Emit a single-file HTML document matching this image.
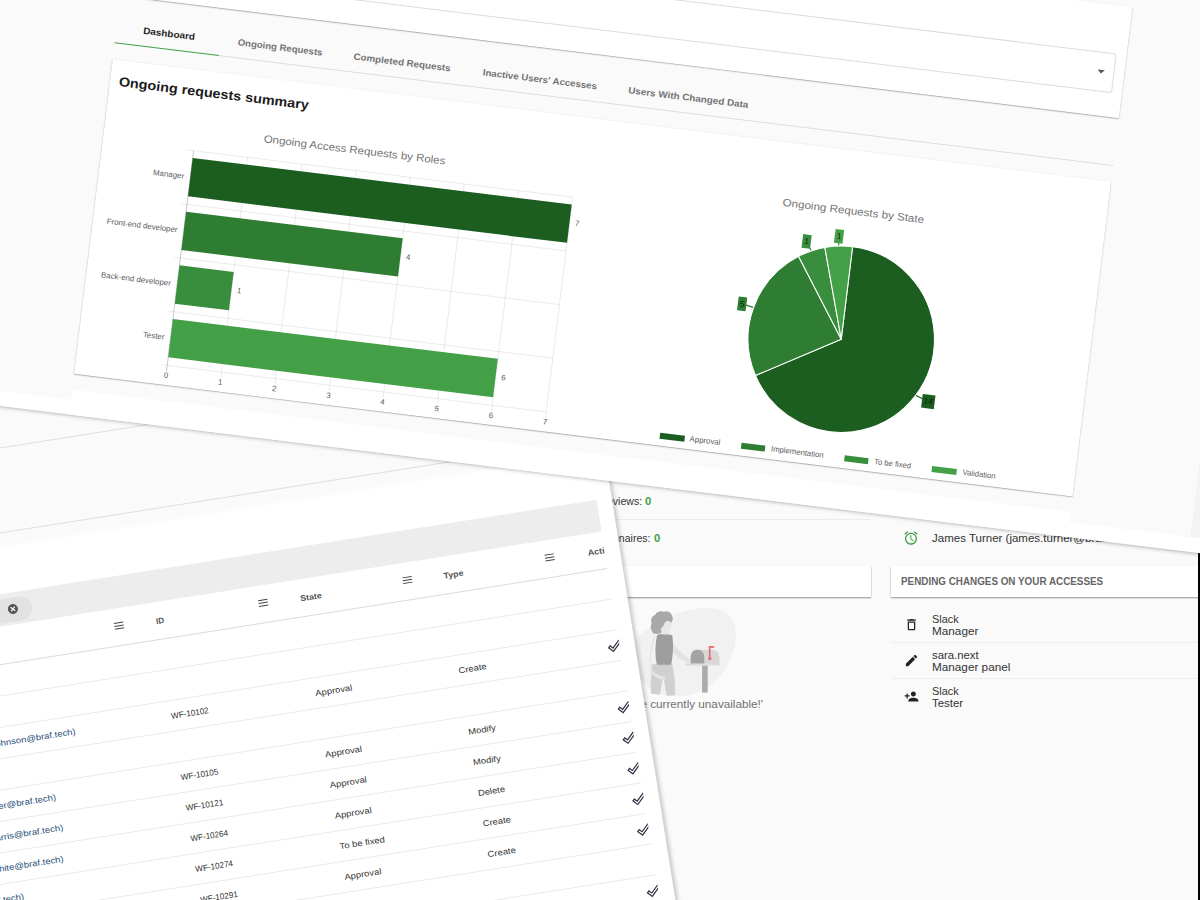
<!DOCTYPE html>
<html lang="en">
<head>
<meta charset="utf-8">
<title>Access requests dashboard</title>
<style>
html,body{margin:0;padding:0;}
body{width:1200px;height:900px;overflow:hidden;position:relative;background:#fafafa;font-family:"Liberation Sans",sans-serif;}
.a{position:absolute;}
.t{position:absolute;white-space:nowrap;font-family:"Liberation Sans",sans-serif;}
.layer{position:absolute;left:0;top:0;width:0;height:0;transform-origin:0 0;}
#tbl{transform:rotate(-9deg);}
#top{transform:rotate(7deg);}
svg{position:absolute;overflow:visible;}
</style>
</head>
<body>

<div id="base" class="a" style="left:0;top:0;width:1200px;height:900px;">
<span class="t" style="left:562.50px;top:494.74px;font-size:10.4px;line-height:13.52px;color:#333;transform:scaleX(1.0140);transform-origin:100% 50%;">Pending reviews:</span>
<span class="t" style="left:644.60px;top:494.74px;font-size:10.4px;line-height:13.52px;color:#43a047;font-weight:bold;transform:scaleX(1.0800);transform-origin:0 50%;">0</span>
<div class="a" style="left:560.00px;top:519.00px;width:310.50px;height:1.00px;background:#ececec;"></div>
<span class="t" style="left:539.40px;top:531.64px;font-size:10.4px;line-height:13.52px;color:#333;transform:scaleX(1.0140);transform-origin:100% 50%;">Pending questionnaires:</span>
<span class="t" style="left:653.90px;top:531.64px;font-size:10.4px;line-height:13.52px;color:#43a047;font-weight:bold;transform:scaleX(1.0800);transform-origin:0 50%;">0</span>
<div class="a" style="left:440.00px;top:566.00px;width:431.30px;height:31.20px;background:#fff;box-shadow:0 1px 1.5px rgba(0,0,0,.42);"></div>
<div class="a" style="left:890.50px;top:566.00px;width:320.00px;height:31.20px;background:#fff;box-shadow:0 1px 1.5px rgba(0,0,0,.42);"></div>
<span class="t" style="left:901.00px;top:574.50px;font-size:10.3px;line-height:13.39px;color:#666;font-weight:bold;transform:scaleX(0.9574);transform-origin:0 50%;">PENDING CHANGES ON YOUR ACCESSES</span>
<svg style="left:620px;top:595px" width="160" height="120" viewBox="0 0 1200 900">
<path d="M120 340 C210 210 470 95 660 95 C800 95 882 190 868 330 C850 520 700 740 470 758 C300 770 165 700 135 570 C118 480 95 400 120 340 Z" fill="#f1f1f1"/>
<path d="M240 520 L392 520 C410 600 416 690 412 752 L350 756 L330 640 L318 640 L300 748 L232 738 C226 660 236 590 240 520 Z" fill="#d0d0d0"/>
<path d="M385 335 C420 400 480 465 560 492 L606 505 L598 522 L545 515 C460 498 395 440 368 395 Z" fill="#e3e3e3"/>
<path d="M278 300 C312 288 360 288 392 304 C403 380 396 460 384 524 L276 524 C262 450 262 372 278 300 Z" fill="#9d9d9d"/>
<path d="M268 308 C244 380 224 470 232 556 C262 590 300 610 335 612 L346 632 L325 640 C290 632 250 610 228 580 C214 480 232 380 252 318 Z" fill="#e3e3e3"/>
<path d="M318 178 L385 178 C392 215 386 250 372 268 L370 296 L318 296 Z" fill="#e7e7e7"/>
<path d="M250 286 C228 262 226 232 238 212 C226 186 240 156 262 150 C272 126 304 116 328 126 C352 114 384 128 390 154 C400 172 396 196 384 208 C374 192 352 190 340 202 C330 214 330 232 318 240 C306 250 306 268 314 280 C296 294 266 296 250 286 Z" fill="#a9a9a9"/>
<rect x="616" y="528" width="42" height="204" fill="#ababab"/>
<path d="M530 520 L530 470 C530 430 555 410 590 410 L690 410 C725 410 745 435 745 470 L745 520 Z" fill="#d7d7d7"/>
<path d="M530 515 L530 468 C530 430 552 410 582 410 C612 410 632 432 632 468 L632 515 Z" fill="#a3a3a3"/>
<rect x="488" y="514" width="257" height="15" fill="#dcdcdc"/>
<rect x="666" y="383" width="13" height="95" fill="#e8707a"/>
<rect x="666" y="383" width="40" height="14" fill="#e8707a"/>
<circle cx="673" cy="476" r="13" fill="#e8707a"/>
</svg>
<span class="t" style="left:645.01px;top:698.04px;font-size:10.4px;line-height:13.52px;color:#707070;transform:scaleX(1.1270);transform-origin:100% 50%;">are currently unavailable!'</span>
<svg style="left:903.2px;top:530.1px" width="16" height="16" viewBox="0 0 24 24" fill="#43a047">
<path d="M22 5.72l-4.6-3.86-1.29 1.53 4.6 3.86L22 5.72zM7.88 3.39L6.6 1.86 2 5.71l1.29 1.53 4.59-3.85zM12.5 8H11v6l4.75 2.85.75-1.23-4-2.37V8zM12 4c-4.97 0-9 4.03-9 9s4.02 9 9 9c4.97 0 9-4.03 9-9s-4.03-9-9-9zm0 16c-3.87 0-7-3.13-7-7s3.13-7 7-7 7 3.13 7 7-3.13 7-7 7z"/></svg>
<span class="t" style="left:931.50px;top:532.14px;font-size:10.4px;line-height:13.52px;color:#333;transform:scaleX(1.1078);transform-origin:0 50%;">James Turner (james.turner@braf.tech)</span>
<svg style="left:903.5px;top:617.3px" width="15" height="15" viewBox="0 0 24 24" fill="#222"><path d="M6 19c0 1.1.9 2 2 2h8c1.1 0 2-.9 2-2V7H6v12zM8 9h8v10H8V9zm7.5-5l-1-1h-5l-1 1H5v2h14V4h-3.5z"/></svg>
<span class="t" style="left:931.50px;top:613.90px;font-size:10.4px;line-height:12px;color:#333;transform:scaleX(1.0499);transform-origin:0 50%;">Slack</span>
<span class="t" style="left:931.50px;top:626.30px;font-size:10.4px;line-height:12px;color:#333;transform:scaleX(1.1304);transform-origin:0 50%;">Manager</span>
<div class="a" style="left:890.50px;top:642.40px;width:310.00px;height:1.00px;background:#eeeeee;"></div>
<svg style="left:903.5px;top:653.3px" width="15" height="15" viewBox="0 0 24 24" fill="#222"><path d="M3 17.25V21h3.75L17.81 9.94l-3.75-3.75L3 17.25zM20.71 7.04a1 1 0 0 0 0-1.41l-2.34-2.34a1 1 0 0 0-1.41 0l-1.83 1.83 3.75 3.75 1.83-1.83z"/></svg>
<span class="t" style="left:931.50px;top:649.90px;font-size:10.4px;line-height:12px;color:#333;transform:scaleX(1.0917);transform-origin:0 50%;">sara.next</span>
<span class="t" style="left:931.50px;top:662.30px;font-size:10.4px;line-height:12px;color:#333;transform:scaleX(1.1299);transform-origin:0 50%;">Manager panel</span>
<div class="a" style="left:890.50px;top:678.40px;width:310.00px;height:1.00px;background:#eeeeee;"></div>
<svg style="left:903.5px;top:689.3px" width="15" height="15" viewBox="0 0 24 24" fill="#222"><path d="M15 12c2.21 0 4-1.79 4-4s-1.79-4-4-4-4 1.79-4 4 1.79 4 4 4zm-9-2V7H4v3H1v2h3v3h2v-3h3v-2H6zm9 4c-2.67 0-8 1.34-8 4v2h16v-2c0-2.66-5.33-4-8-4z"/></svg>
<span class="t" style="left:931.50px;top:685.90px;font-size:10.4px;line-height:12px;color:#333;transform:scaleX(1.0499);transform-origin:0 50%;">Slack</span>
<span class="t" style="left:931.50px;top:698.30px;font-size:10.4px;line-height:12px;color:#333;transform:scaleX(1.1016);transform-origin:0 50%;">Tester</span>
<div class="a" style="left:1197.80px;top:545.00px;width:3.00px;height:360.00px;background:#000;"></div>
</div>
<div id="tbl" class="layer">
<div class="a" style="left:-260.00px;top:250.00px;width:785.60px;height:900.00px;background:#fafafa;box-shadow:1.5px 0 5px rgba(0,0,0,.34);"></div>
<div class="a" style="left:-260.00px;top:441.60px;width:785.60px;height:0.90px;background:#dedede;"></div>
<div class="a" style="left:-260.00px;top:526.30px;width:785.60px;height:0.90px;background:#dedede;"></div>
<div class="a" style="left:-260.00px;top:541.60px;width:785.60px;height:620.00px;background:#fff;box-shadow:0 -2px 3px rgba(255,255,255,.9);"></div>
<div class="a" style="left:-260.00px;top:587.00px;width:771.00px;height:32.00px;background:#ededed;"></div>
<div class="a" style="left:-200.00px;top:591.50px;width:137.30px;height:24.00px;background:#e2e2e2;border-radius:12px;"></div>
<svg style="left:-88.2px;top:598.3px" width="11" height="11" viewBox="0 0 24 24"><circle cx="12" cy="12" r="11" fill="#555"/><path d="M7.5 7.5l9 9M16.5 7.5l-9 9" stroke="#fff" stroke-width="2.6" fill="none"/></svg>
<div class="a" style="left:-260px;top:619px;width:771.0px;height:560px;overflow:hidden;">
<span class="t" style="left:317.00px;top:13.61px;font-size:8.3px;line-height:10.79px;color:#555;font-weight:bold;transform:scaleX(0.9639);transform-origin:0 50%;">ID</span>
<span class="t" style="left:462.80px;top:13.61px;font-size:8.3px;line-height:10.79px;color:#555;font-weight:bold;transform:scaleX(1.0592);transform-origin:0 50%;">State</span>
<span class="t" style="left:608.40px;top:13.61px;font-size:8.3px;line-height:10.79px;color:#555;font-weight:bold;transform:scaleX(1.0663);transform-origin:0 50%;">Type</span>
<span class="t" style="left:754.10px;top:13.61px;font-size:8.3px;line-height:10.79px;color:#555;font-weight:bold;transform:scaleX(1.0842);transform-origin:0 50%;">Actions</span>
<svg style="left:274.90px;top:14.40px" width="9.4" height="7.2" viewBox="0 0 9.4 7.2"><path d="M0 .7h9.4M0 3.6h9.4M0 6.5h9.4" stroke="#444" stroke-width="1" fill="none"/></svg>
<svg style="left:420.70px;top:14.40px" width="9.4" height="7.2" viewBox="0 0 9.4 7.2"><path d="M0 .7h9.4M0 3.6h9.4M0 6.5h9.4" stroke="#444" stroke-width="1" fill="none"/></svg>
<svg style="left:566.60px;top:14.40px" width="9.4" height="7.2" viewBox="0 0 9.4 7.2"><path d="M0 .7h9.4M0 3.6h9.4M0 6.5h9.4" stroke="#444" stroke-width="1" fill="none"/></svg>
<svg style="left:711.40px;top:14.40px" width="9.4" height="7.2" viewBox="0 0 9.4 7.2"><path d="M0 .7h9.4M0 3.6h9.4M0 6.5h9.4" stroke="#444" stroke-width="1" fill="none"/></svg>
<svg style="left:129.20px;top:14.40px" width="9.4" height="7.2" viewBox="0 0 9.4 7.2"><path d="M0 .7h9.4M0 3.6h9.4M0 6.5h9.4" stroke="#444" stroke-width="1" fill="none"/></svg>
<div class="a" style="left:0.00px;top:36.50px;width:771.00px;height:1.00px;background:#dadada;"></div>
<div class="a" style="left:0.00px;top:67.50px;width:771.00px;height:1.00px;background:#eaeaea;"></div>
<div class="a" style="left:0.00px;top:98.50px;width:771.00px;height:1.00px;background:#eaeaea;"></div>
<div class="a" style="left:0.00px;top:129.50px;width:771.00px;height:1.00px;background:#eaeaea;"></div>
<div class="a" style="left:0.00px;top:160.50px;width:771.00px;height:1.00px;background:#eaeaea;"></div>
<div class="a" style="left:0.00px;top:191.50px;width:771.00px;height:1.00px;background:#eaeaea;"></div>
<div class="a" style="left:0.00px;top:222.50px;width:771.00px;height:1.00px;background:#eaeaea;"></div>
<div class="a" style="left:0.00px;top:253.50px;width:771.00px;height:1.00px;background:#eaeaea;"></div>
<div class="a" style="left:0.00px;top:284.50px;width:771.00px;height:1.00px;background:#eaeaea;"></div>
<div class="a" style="left:0.00px;top:315.50px;width:771.00px;height:1.00px;background:#eaeaea;"></div>
<div class="a" style="left:0.00px;top:346.50px;width:771.00px;height:1.00px;background:#eaeaea;"></div>
<div class="a" style="left:0.00px;top:377.50px;width:771.00px;height:1.00px;background:#eaeaea;"></div>
<div class="a" style="left:0.00px;top:408.50px;width:771.00px;height:1.00px;background:#eaeaea;"></div>
<span class="t" style="left:65.17px;top:110.41px;font-size:8.45px;line-height:10.98px;color:#2a5078;transform:scaleX(1.1293);transform-origin:100% 50%;">Emily Johnson (emily.johnson@braf.tech)</span>
<span class="t" style="left:317.00px;top:110.41px;font-size:8.45px;line-height:10.98px;color:#333;transform:scaleX(0.9633);transform-origin:0 50%;">WF-10102</span>
<span class="t" style="left:462.80px;top:110.41px;font-size:8.45px;line-height:10.98px;color:#333;transform:scaleX(1.1200);transform-origin:0 50%;">Approval</span>
<span class="t" style="left:608.40px;top:110.41px;font-size:8.45px;line-height:10.98px;color:#333;transform:scaleX(1.1200);transform-origin:0 50%;">Create</span>
<svg style="left:758.60px;top:107.90px" width="14.4" height="14.4" viewBox="0 0 24 24"><path fill="#2b3040" d="M19.77 5.03l1.4 1.4L8.43 19.17l-5.6-5.6 1.4-1.4 4.2 4.2L19.77 5.03m0-2.83L8.43 13.54l-4.2-4.2L0 13.57 8.43 22 24 6.43 19.77 2.2z"/></svg>
<span class="t" style="left:46.23px;top:172.41px;font-size:8.45px;line-height:10.98px;color:#2a5078;transform:scaleX(1.1293);transform-origin:100% 50%;">Oliver Parker (oliver.parker@braf.tech)</span>
<span class="t" style="left:317.00px;top:172.41px;font-size:8.45px;line-height:10.98px;color:#333;transform:scaleX(0.9633);transform-origin:0 50%;">WF-10105</span>
<span class="t" style="left:462.80px;top:172.41px;font-size:8.45px;line-height:10.98px;color:#333;transform:scaleX(1.1200);transform-origin:0 50%;">Approval</span>
<span class="t" style="left:608.40px;top:172.41px;font-size:8.45px;line-height:10.98px;color:#333;transform:scaleX(1.1200);transform-origin:0 50%;">Modify</span>
<svg style="left:758.60px;top:169.90px" width="14.4" height="14.4" viewBox="0 0 24 24"><path fill="#2b3040" d="M19.77 5.03l1.4 1.4L8.43 19.17l-5.6-5.6 1.4-1.4 4.2 4.2L19.77 5.03m0-2.83L8.43 13.54l-4.2-4.2L0 13.57 8.43 22 24 6.43 19.77 2.2z"/></svg>
<span class="t" style="left:52.73px;top:203.41px;font-size:8.45px;line-height:10.98px;color:#2a5078;transform:scaleX(1.1293);transform-origin:100% 50%;">Lucas Harris (lucas.harris@braf.tech)</span>
<span class="t" style="left:317.00px;top:203.41px;font-size:8.45px;line-height:10.98px;color:#333;transform:scaleX(0.9633);transform-origin:0 50%;">WF-10121</span>
<span class="t" style="left:462.80px;top:203.41px;font-size:8.45px;line-height:10.98px;color:#333;transform:scaleX(1.1200);transform-origin:0 50%;">Approval</span>
<span class="t" style="left:608.40px;top:203.41px;font-size:8.45px;line-height:10.98px;color:#333;transform:scaleX(1.1200);transform-origin:0 50%;">Modify</span>
<svg style="left:758.60px;top:200.90px" width="14.4" height="14.4" viewBox="0 0 24 24"><path fill="#2b3040" d="M19.77 5.03l1.4 1.4L8.43 19.17l-5.6-5.6 1.4-1.4 4.2 4.2L19.77 5.03m0-2.83L8.43 13.54l-4.2-4.2L0 13.57 8.43 22 24 6.43 19.77 2.2z"/></svg>
<span class="t" style="left:49.29px;top:234.41px;font-size:8.45px;line-height:10.98px;color:#2a5078;transform:scaleX(1.1293);transform-origin:100% 50%;">Grace White (grace.white@braf.tech)</span>
<span class="t" style="left:317.00px;top:234.41px;font-size:8.45px;line-height:10.98px;color:#333;transform:scaleX(0.9633);transform-origin:0 50%;">WF-10264</span>
<span class="t" style="left:462.80px;top:234.41px;font-size:8.45px;line-height:10.98px;color:#333;transform:scaleX(1.1200);transform-origin:0 50%;">Approval</span>
<span class="t" style="left:608.40px;top:234.41px;font-size:8.45px;line-height:10.98px;color:#333;transform:scaleX(1.1200);transform-origin:0 50%;">Delete</span>
<svg style="left:758.60px;top:231.90px" width="14.4" height="14.4" viewBox="0 0 24 24"><path fill="#2b3040" d="M19.77 5.03l1.4 1.4L8.43 19.17l-5.6-5.6 1.4-1.4 4.2 4.2L19.77 5.03m0-2.83L8.43 13.54l-4.2-4.2L0 13.57 8.43 22 24 6.43 19.77 2.2z"/></svg>
<span class="t" style="left:24.99px;top:265.41px;font-size:8.45px;line-height:10.98px;color:#2a5078;transform:scaleX(1.1293);transform-origin:100% 50%;">Noah Lee (noah.lee@braf.tech)</span>
<span class="t" style="left:317.00px;top:265.41px;font-size:8.45px;line-height:10.98px;color:#333;transform:scaleX(0.9633);transform-origin:0 50%;">WF-10274</span>
<span class="t" style="left:462.80px;top:265.41px;font-size:8.45px;line-height:10.98px;color:#333;transform:scaleX(1.1200);transform-origin:0 50%;">To be fixed</span>
<span class="t" style="left:608.40px;top:265.41px;font-size:8.45px;line-height:10.98px;color:#333;transform:scaleX(1.1200);transform-origin:0 50%;">Create</span>
<svg style="left:758.60px;top:262.90px" width="14.4" height="14.4" viewBox="0 0 24 24"><path fill="#2b3040" d="M19.77 5.03l1.4 1.4L8.43 19.17l-5.6-5.6 1.4-1.4 4.2 4.2L19.77 5.03m0-2.83L8.43 13.54l-4.2-4.2L0 13.57 8.43 22 24 6.43 19.77 2.2z"/></svg>
<span class="t" style="left:3.28px;top:296.41px;font-size:8.45px;line-height:10.98px;color:#2a5078;transform:scaleX(1.1293);transform-origin:100% 50%;">Mia Fox (mia.fox@braf.tech)</span>
<span class="t" style="left:317.00px;top:296.41px;font-size:8.45px;line-height:10.98px;color:#333;transform:scaleX(0.9633);transform-origin:0 50%;">WF-10291</span>
<span class="t" style="left:462.80px;top:296.41px;font-size:8.45px;line-height:10.98px;color:#333;transform:scaleX(1.1200);transform-origin:0 50%;">Approval</span>
<span class="t" style="left:608.40px;top:296.41px;font-size:8.45px;line-height:10.98px;color:#333;transform:scaleX(1.1200);transform-origin:0 50%;">Create</span>
<svg style="left:758.60px;top:293.90px" width="14.4" height="14.4" viewBox="0 0 24 24"><path fill="#2b3040" d="M19.77 5.03l1.4 1.4L8.43 19.17l-5.6-5.6 1.4-1.4 4.2 4.2L19.77 5.03m0-2.83L8.43 13.54l-4.2-4.2L0 13.57 8.43 22 24 6.43 19.77 2.2z"/></svg>
<span class="t" style="left:-9.86px;top:358.41px;font-size:8.45px;line-height:10.98px;color:#2a5078;transform:scaleX(1.1293);transform-origin:100% 50%;">Ava Kim (ava.kim@braf.tech)</span>
<span class="t" style="left:317.00px;top:358.41px;font-size:8.45px;line-height:10.98px;color:#333;transform:scaleX(0.9633);transform-origin:0 50%;">WF-10305</span>
<span class="t" style="left:462.80px;top:358.41px;font-size:8.45px;line-height:10.98px;color:#333;transform:scaleX(1.1200);transform-origin:0 50%;">Approval</span>
<span class="t" style="left:608.40px;top:358.41px;font-size:8.45px;line-height:10.98px;color:#333;transform:scaleX(1.1200);transform-origin:0 50%;">Create</span>
<svg style="left:758.60px;top:355.90px" width="14.4" height="14.4" viewBox="0 0 24 24"><path fill="#2b3040" d="M19.77 5.03l1.4 1.4L8.43 19.17l-5.6-5.6 1.4-1.4 4.2 4.2L19.77 5.03m0-2.83L8.43 13.54l-4.2-4.2L0 13.57 8.43 22 24 6.43 19.77 2.2z"/></svg>
<span class="t" style="left:-6.27px;top:389.41px;font-size:8.45px;line-height:10.98px;color:#2a5078;transform:scaleX(1.1293);transform-origin:100% 50%;">Leo Ray (leo.ray@braf.tech)</span>
<span class="t" style="left:317.00px;top:389.41px;font-size:8.45px;line-height:10.98px;color:#333;transform:scaleX(0.9633);transform-origin:0 50%;">WF-10311</span>
<span class="t" style="left:462.80px;top:389.41px;font-size:8.45px;line-height:10.98px;color:#333;transform:scaleX(1.1200);transform-origin:0 50%;">Approval</span>
<span class="t" style="left:608.40px;top:389.41px;font-size:8.45px;line-height:10.98px;color:#333;transform:scaleX(1.1200);transform-origin:0 50%;">Modify</span>
<svg style="left:758.60px;top:386.90px" width="14.4" height="14.4" viewBox="0 0 24 24"><path fill="#2b3040" d="M19.77 5.03l1.4 1.4L8.43 19.17l-5.6-5.6 1.4-1.4 4.2 4.2L19.77 5.03m0-2.83L8.43 13.54l-4.2-4.2L0 13.57 8.43 22 24 6.43 19.77 2.2z"/></svg>
</div>
</div>
<div id="top" class="layer">
<div class="a" style="left:-60.00px;top:-420.00px;width:1500.00px;height:822.30px;background:#fafafa;box-shadow:0 1.2px 4px rgba(0,0,0,.38);"></div>
<div class="a" style="left:1247.00px;top:-420.00px;width:200.00px;height:808.00px;background:#f3f3f3;"></div>
<div class="a" style="left:-60.00px;top:387.50px;width:1500.00px;height:15.00px;background:#fff;"></div>
<div class="a" style="left:119.00px;top:-131.40px;width:1006.40px;height:112.80px;background:#fff;box-shadow:0 .7px 1.3px rgba(0,0,0,.38);"></div>
<div class="a" style="left:130.00px;top:-82.60px;width:984.80px;height:39.40px;background:transparent;border:1px solid #dcdcdc;border-radius:3px;box-sizing:border-box;"></div>
<svg style="left:1097.7px;top:-64.6px" width="7.2" height="3.8" viewBox="0 0 10 5"><path d="M0 0h10L5 5z" fill="#555"/></svg>
<span class="t" style="left:148.07px;top:7.82px;font-size:9.2px;line-height:11.96px;color:#1f1f1f;font-weight:bold;transform:scaleX(1.0821);transform-origin:50% 50%;">Dashboard</span>
<span class="t" style="left:242.51px;top:7.82px;font-size:9.2px;line-height:11.96px;color:#737373;font-weight:bold;transform:scaleX(1.0455);transform-origin:50% 50%;">Ongoing Requests</span>
<span class="t" style="left:361.15px;top:7.82px;font-size:9.2px;line-height:11.96px;color:#737373;font-weight:bold;transform:scaleX(1.0709);transform-origin:50% 50%;">Completed Requests</span>
<span class="t" style="left:490.77px;top:7.82px;font-size:9.2px;line-height:11.96px;color:#737373;font-weight:bold;transform:scaleX(1.0526);transform-origin:50% 50%;">Inactive Users' Accesses</span>
<span class="t" style="left:638.91px;top:7.82px;font-size:9.2px;line-height:11.96px;color:#737373;font-weight:bold;transform:scaleX(1.0767);transform-origin:50% 50%;">Users With Changed Data</span>
<div class="a" style="left:224.00px;top:28.20px;width:901.40px;height:0.80px;background:#dddddd;"></div>
<div class="a" style="left:119.00px;top:27.70px;width:105.00px;height:1.35px;background:#43a047;"></div>
<div class="a" style="left:119.00px;top:45.20px;width:1006.40px;height:316.80px;background:#fff;box-shadow:0 .7px 1.3px rgba(0,0,0,.38);"></div>
<div class="a" style="left:119.00px;top:377.50px;width:1006.40px;height:25.00px;background:#fff;"></div>
<span class="t" style="left:128.30px;top:57.72px;font-size:13.2px;line-height:17.16px;color:#1c1c1c;font-weight:bold;transform:scaleX(1.0924);transform-origin:0 50%;">Ongoing requests summary</span>
<span class="t" style="left:285.74px;top:98.91px;font-size:10.6px;line-height:13.78px;color:#737373;transform:scaleX(1.0860);transform-origin:50% 50%;">Ongoing Access Requests by Roles</span>
<span class="t" style="left:808.18px;top:98.91px;font-size:10.6px;line-height:13.78px;color:#737373;transform:scaleX(1.0992);transform-origin:50% 50%;">Ongoing Requests by State</span>
<svg style="left:0;top:0" width="10" height="10" fill="none"><path d="M210.50 126.00V348.30" stroke="rgba(0,0,0,.28)" stroke-width=".75"/><path d="M265.06 126.00V348.30" stroke="rgba(0,0,0,.105)" stroke-width=".75"/><path d="M319.61 126.00V348.30" stroke="rgba(0,0,0,.105)" stroke-width=".75"/><path d="M374.17 126.00V348.30" stroke="rgba(0,0,0,.105)" stroke-width=".75"/><path d="M428.73 126.00V348.30" stroke="rgba(0,0,0,.105)" stroke-width=".75"/><path d="M483.29 126.00V348.30" stroke="rgba(0,0,0,.105)" stroke-width=".75"/><path d="M537.84 126.00V348.30" stroke="rgba(0,0,0,.105)" stroke-width=".75"/><path d="M592.40 126.00V348.30" stroke="rgba(0,0,0,.105)" stroke-width=".75"/><path d="M204.50 126.00H592.40" stroke="rgba(0,0,0,.105)" stroke-width=".75"/><path d="M204.50 180.07H592.40" stroke="rgba(0,0,0,.105)" stroke-width=".75"/><path d="M204.50 234.15H592.40" stroke="rgba(0,0,0,.105)" stroke-width=".75"/><path d="M204.50 288.23H592.40" stroke="rgba(0,0,0,.105)" stroke-width=".75"/><path d="M204.50 342.30H592.40" stroke="rgba(0,0,0,.105)" stroke-width=".75"/><rect x="210.50" y="133.30" width="381.90" height="38.66" fill="#1b5e20"/><rect x="210.50" y="187.38" width="218.23" height="38.66" fill="#2e7d32"/><rect x="210.50" y="241.45" width="54.56" height="38.66" fill="#388e3c"/><rect x="210.50" y="295.53" width="327.34" height="38.66" fill="#43a047"/></svg>
<span class="t" style="left:173.02px;top:147.90px;font-size:7.9px;line-height:10.27px;color:#5c5c5c;">Manager</span>
<span class="t" style="left:598.03px;top:146.97px;font-size:7.8px;line-height:10.14px;color:#5c5c5c;">7</span>
<span class="t" style="left:133.05px;top:201.98px;font-size:7.9px;line-height:10.27px;color:#5c5c5c;">Front-end developer</span>
<span class="t" style="left:434.36px;top:201.04px;font-size:7.8px;line-height:10.14px;color:#5c5c5c;">4</span>
<span class="t" style="left:133.93px;top:256.05px;font-size:7.9px;line-height:10.27px;color:#5c5c5c;">Back-end developer</span>
<span class="t" style="left:270.69px;top:255.12px;font-size:7.8px;line-height:10.14px;color:#5c5c5c;">1</span>
<span class="t" style="left:182.69px;top:310.13px;font-size:7.9px;line-height:10.27px;color:#5c5c5c;">Tester</span>
<span class="t" style="left:543.47px;top:309.19px;font-size:7.8px;line-height:10.14px;color:#5c5c5c;">6</span>
<span class="t" style="left:208.30px;top:347.76px;font-size:7.9px;line-height:10.27px;color:#5c5c5c;">0</span>
<span class="t" style="left:262.86px;top:347.76px;font-size:7.9px;line-height:10.27px;color:#5c5c5c;">1</span>
<span class="t" style="left:317.42px;top:347.76px;font-size:7.9px;line-height:10.27px;color:#5c5c5c;">2</span>
<span class="t" style="left:371.97px;top:347.76px;font-size:7.9px;line-height:10.27px;color:#5c5c5c;">3</span>
<span class="t" style="left:426.53px;top:347.76px;font-size:7.9px;line-height:10.27px;color:#5c5c5c;">4</span>
<span class="t" style="left:481.09px;top:347.76px;font-size:7.9px;line-height:10.27px;color:#5c5c5c;">5</span>
<span class="t" style="left:535.65px;top:347.76px;font-size:7.9px;line-height:10.27px;color:#5c5c5c;">6</span>
<span class="t" style="left:590.20px;top:347.76px;font-size:7.9px;line-height:10.27px;color:#5c5c5c;">7</span>
<svg style="left:0;top:0" width="10" height="10" fill="none"><path d="M876.30 234.10L876.30 140.90A93.2 93.2 0 1 1 795.59 280.70Z" fill="#1b5e20" stroke="#fff" stroke-width="1.05" stroke-linejoin="round"/><path d="M957.45 280.95L970.30 285.40" stroke="#1b5e20" stroke-width="1.2"/><rect x="963.90" y="278.50" width="12.8" height="13.8" fill="#1b5e20"/><path d="M876.30 234.10L795.59 280.70A93.2 93.2 0 0 1 823.80 157.09Z" fill="#2e7d32" stroke="#fff" stroke-width="1.05" stroke-linejoin="round"/><path d="M784.95 213.25L773.60 211.10" stroke="#2e7d32" stroke-width="1.2"/><rect x="769.30" y="204.20" width="8.6" height="13.8" fill="#2e7d32"/><path d="M876.30 234.10L823.80 157.09A93.2 93.2 0 0 1 848.83 145.04Z" fill="#388e3c" stroke="#fff" stroke-width="1.05" stroke-linejoin="round"/><path d="M835.65 149.68L830.00 141.40" stroke="#388e3c" stroke-width="1.2"/><rect x="825.70" y="134.50" width="8.6" height="13.8" fill="#388e3c"/><path d="M876.30 234.10L848.83 145.04A93.2 93.2 0 0 1 876.30 140.90Z" fill="#43a047" stroke="#fff" stroke-width="1.05" stroke-linejoin="round"/><path d="M862.33 141.45L861.60 132.40" stroke="#43a047" stroke-width="1.2"/><rect x="857.30" y="125.50" width="8.6" height="13.8" fill="#43a047"/></svg>
<span class="t" style="left:965.63px;top:280.14px;font-size:8.4px;line-height:10.92px;color:#0c1f0e;">14</span>
<span class="t" style="left:771.26px;top:205.84px;font-size:8.4px;line-height:10.92px;color:#0c1f0e;">5</span>
<span class="t" style="left:827.66px;top:136.14px;font-size:8.4px;line-height:10.92px;color:#0c1f0e;">1</span>
<span class="t" style="left:859.26px;top:127.14px;font-size:8.4px;line-height:10.92px;color:#0c1f0e;">1</span>
<div class="a" style="left:708.20px;top:348.50px;width:24.80px;height:6.80px;background:#1b5e20;"></div>
<span class="t" style="left:738.40px;top:347.26px;font-size:7.9px;line-height:10.27px;color:#5c5c5c;transform:scaleX(0.9942);transform-origin:0 50%;">Approval</span>
<div class="a" style="left:789.60px;top:348.50px;width:24.80px;height:6.80px;background:#2e7d32;"></div>
<span class="t" style="left:819.80px;top:347.26px;font-size:7.9px;line-height:10.27px;color:#5c5c5c;transform:scaleX(0.9812);transform-origin:0 50%;">Implementation</span>
<div class="a" style="left:893.70px;top:348.50px;width:24.80px;height:6.80px;background:#388e3c;"></div>
<span class="t" style="left:923.90px;top:347.26px;font-size:7.9px;line-height:10.27px;color:#5c5c5c;transform:scaleX(0.9684);transform-origin:0 50%;">To be fixed</span>
<div class="a" style="left:982.40px;top:348.50px;width:24.80px;height:6.80px;background:#43a047;"></div>
<span class="t" style="left:1012.60px;top:347.26px;font-size:7.9px;line-height:10.27px;color:#5c5c5c;transform:scaleX(0.9732);transform-origin:0 50%;">Validation</span>
</div>
</body>
</html>
